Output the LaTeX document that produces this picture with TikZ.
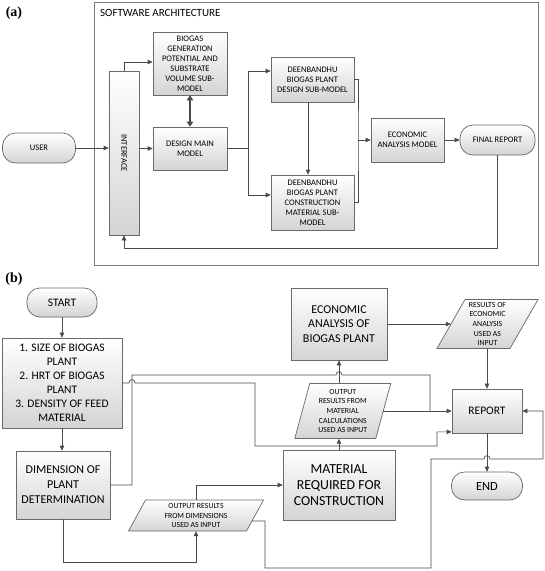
\documentclass[tikz,border=0pt]{standalone}
\usepackage{fontspec}
\setmainfont{Carlito}
\newfontfamily\labfont{Liberation Serif}
\usetikzlibrary{arrows.meta,calc}

\definecolor{lnc}{HTML}{4A4A4A}
\definecolor{bdc}{HTML}{6A6A6A}
\definecolor{fbc}{HTML}{D4D4D4}
\definecolor{frc}{HTML}{7A7A7A}

\tikzset{
  wire/.style={draw=lnc, line width=0.7pt},
  arr/.style={wire, -{Triangle[length=5pt,width=4.5pt]}},
  boxbase/.style={draw=bdc, line width=0.7pt, top color=white, bottom color=fbc, align=center, inner sep=1pt},
  boxa/.style={boxbase, font=\fontsize{8.5}{10}\selectfont},
  boxb/.style={boxbase, font=\fontsize{11.5}{14}\selectfont},
  termbox/.style={rounded corners=13pt},
  parafill/.style={draw=bdc, line width=0.7pt, top color=white, bottom color=fbc},
  paratext/.style={align=center, inner sep=0pt, font=\fontsize{7.8}{9.7}\selectfont},
  panellabel/.style={font=\labfont\bfseries\fontsize{14}{16}\selectfont, inner sep=0pt},
  frame/.style={draw=frc, line width=0.8pt}
}

\newcommand{\mypara}[7]{%
  \path[parafill] ({#2-#4/2+#6},{#3-#5/2}) -- ({#2+#4/2+#6},{#3-#5/2}) -- ({#2+#4/2-#6},{#3+#5/2}) -- ({#2-#4/2-#6},{#3+#5/2}) -- cycle;
  \node[paratext, minimum width=#4pt, minimum height=#5pt] (#1) at (#2,#3) {#7};}

\begin{document}
\begin{tikzpicture}[x=1pt,y=-1pt]
\fill[white] (0,0) rectangle (545,571);
\useasboundingbox (0,0) rectangle (545,571);

% ---------------- (a)
\draw[frame] (94,2) rectangle (538,265);
\node[panellabel] (la) at (14,13) {(a)};
\node[anchor=west, inner sep=0pt, font=\fontsize{11}{13}\selectfont] (title) at (100,13) {SOFTWARE ARCHITECTURE};

\node[boxa, termbox, minimum width=73pt, minimum height=30pt] (user) at (39,148) {USER};
\node[boxa, minimum width=30pt, minimum height=164pt] (iface) at (124,153) {};
\node[rotate=-90, inner sep=0pt, font=\fontsize{8.5}{10}\selectfont] (ifacetext) at (iface) {INTERFACE};
\node[boxa, minimum width=74pt, minimum height=63pt] (bio) at (190,63.5) {BIOGAS\\GENERATION\\POTENTIAL AND\\SUBSTRATE\\VOLUME SUB-\\MODEL};
\node[boxa, minimum width=74pt, minimum height=43pt] (dmm) at (190,148.5) {DESIGN MAIN\\MODEL};
\node[boxa, minimum width=83pt, minimum height=45pt] (dsub) at (312.5,79.5) {DEENBANDHU\\BIOGAS PLANT\\DESIGN SUB-MODEL};
\node[boxa, minimum width=83pt, minimum height=55pt] (csub) at (312.5,202.5) {DEENBANDHU\\BIOGAS PLANT\\CONSTRUCTION\\MATERIAL SUB-\\MODEL};
\node[boxa, minimum width=73pt, minimum height=44pt] (econa) at (407.5,140) {ECONOMIC\\ANALYSIS MODEL};
\node[boxa, termbox, minimum width=75pt, minimum height=30pt] (final) at (497.5,140) {FINAL REPORT};

\draw[arr] (user.east) -- (user.east -| iface.west);
\draw[arr] (iface.east |- dmm.west) -- (dmm.west);
\draw[arr] (iface.north) |- ([yshift=1.5pt]bio.west);
\draw[wire, line width=1.8pt, {Triangle[length=5pt,width=6.5pt]}-{Triangle[length=5pt,width=6.5pt]}] (bio.south) -- (dmm.north);
\coordinate (j1) at (248,148.5);
\draw[wire] (dmm.east) -- (j1);
\draw[arr] (j1) |- ([yshift=8.5pt]dsub.west);
\draw[arr] (j1) |- ([yshift=7.5pt]csub.west);
\draw[arr] ([xshift=-4.5pt]dsub.south) -- ([xshift=-4.5pt]csub.north);
\coordinate (j2) at (358,140);
\draw[wire] (dsub.east) -| (j2) |- (csub.east);
\draw[arr] (j2) -- (econa.west);
\draw[arr] (econa.east) -- (final.west);
\coordinate (fbk) at (124,248);
\draw[arr] (final.south) |- (fbk) -- (iface.south);

% ---------------- (b)
\node[panellabel] (lb) at (14,279) {(b)};
\node[boxb, termbox, minimum width=70pt, minimum height=29pt] (start) at (62,302.5) {START};
\node[boxb, minimum width=120pt, minimum height=90pt] (inp) at (62,383) {1. SIZE OF BIOGAS\\PLANT\\2. HRT OF BIOGAS\\PLANT\\3. DENSITY OF FEED\\MATERIAL};
\node[boxb, minimum width=94pt, minimum height=68pt, font=\fontsize{12}{15}\selectfont] (dim) at (63,485) {DIMENSION OF\\PLANT\\DETERMINATION};
\node[boxb, minimum width=96pt, minimum height=72pt, font=\fontsize{12}{14.5}\selectfont] (econb) at (339,324) {ECONOMIC\\ANALYSIS OF\\BIOGAS PLANT};
\node[boxb, minimum width=112pt, minimum height=70pt, font=\fontsize{13.8}{16}\selectfont] (mat) at (339,485) {MATERIAL\\REQUIRED FOR\\CONSTRUCTION};
\node[boxb, minimum width=70pt, minimum height=44pt] (report) at (487,411) {REPORT};
\node[boxb, termbox, minimum width=71pt, minimum height=28pt, font=\fontsize{12.5}{14}\selectfont] (endn) at (487,486) {END};
\mypara{para1}{342.75}{411}{81}{55}{7.5}{OUTPUT\\RESULTS FROM\\MATERIAL\\CALCULATIONS\\USED AS INPUT}
\mypara{para2}{196}{515.5}{118}{31}{8.5}{OUTPUT RESULTS\\FROM DIMENSIONS\\USED AS INPUT}
\mypara{para3}{487.5}{324}{73}{49}{14}{RESULTS OF\\ECONOMIC\\ANALYSIS\\USED AS\\INPUT}

\draw[arr] (start.south) -- (inp.north);
\draw[arr] (inp.south) -- (inp.south |- dim.north);

\coordinate (h1a) at (129,383);
\coordinate (h1b) at (135,383);
\coordinate (c1) at (255,383);
\coordinate (c2) at (255,446);
\coordinate (c3) at (437,446);
\draw[arr] (inp.east) -- (h1a) .. controls +(0,-4.5) and +(0,-4.5) .. (h1b) -- (c1) -- (c2) -- (c3) |- ([yshift=1.5pt]report.south west);

\coordinate (d2) at (132,375);
\coordinate (h2a) at (336,375);
\coordinate (h2b) at (342,375);
\coordinate (d3) at (430,375);
\draw[wire] (dim.east) -| (d2) -- (h2a) .. controls +(0,-4.5) and +(0,-4.5) .. (h2b) -- (d3) -- (d3 |- report.west);
\draw[arr] (para1.east) -- (report.west);

\coordinate (c4) at (196,562);
\draw[arr] (dim.south) |- (c4) -- (para2.south);
\draw[arr] (para2.north) |- (mat.west);

\coordinate (e1) at (265,568);
\coordinate (e2) at (431,459);
\coordinate (h3a) at (484,459);
\coordinate (h3b) at (490,459);
\coordinate (e3) at (543,459);
\draw[arr] ($(para2.east)+(-3,5.5)$) -| (e1) -| (e2) -- (h3a) .. controls +(0,-4.5) and +(0,-4.5) .. (h3b) -- (e3) |- (report.east);
\draw[arr] (report.south) -- (endn.north);

\draw[arr] (mat.north) -- (mat.north |- para1.south);
\draw[arr] (para1.north -| mat.north) -- (econb.south);
\draw[arr] (econb.east) -- (para3.west);
\draw[arr] (report.north |- para3.south) -- (report.north);
\end{tikzpicture}
\end{document}
